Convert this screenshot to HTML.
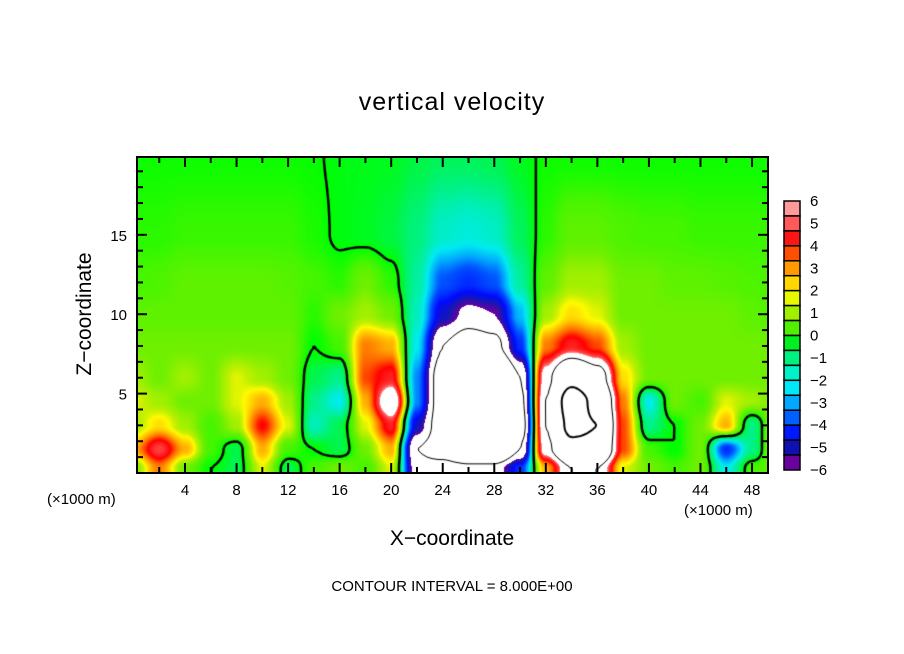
<!DOCTYPE html>
<html><head><meta charset="utf-8">
<style>
html,body{margin:0;padding:0;background:#fff;}
#wrap{position:relative;width:904px;height:654px;overflow:hidden;font-family:"Liberation Sans",sans-serif;color:#000;}
.t{position:absolute;white-space:nowrap;}
canvas,svg{position:absolute;left:0;top:0;}
</style></head>
<body>
<div id="wrap">
<canvas id="cv" width="904" height="654"></canvas>
<svg id="sv" width="904" height="654"></svg>
<div class="t" style="left:0;width:904px;text-align:center;top:88px;font-size:25px;letter-spacing:1px;">vertical velocity</div>
<div class="t" style="left:-5px;top:302px;width:180px;text-align:center;font-size:21px;transform:rotate(-90deg);">Z−coordinate</div>
<div class="t" style="left:0;width:904px;text-align:center;top:527px;font-size:21px;">X−coordinate</div>
<div class="t" style="left:47px;top:491px;font-size:15px;">(×1000 m)</div>
<div class="t" style="left:684px;top:502px;font-size:15px;">(×1000 m)</div>
<div class="t" style="left:0;width:904px;text-align:center;top:578px;font-size:15px;">CONTOUR INTERVAL = 8.000E+00</div>
</div>
<script>
// ---- data ----
const xCoords = [0,2,4,6,8,10,12,14,16,18,20,22,24,26,28,30,32,34,36,38,40,42,44,46,48,50];
const zLevels = [0.3,1.5,3,4.5,6,8,10,12,15,20];
const wRow0 = [1,3.5,1,0,-0.5,2,-0.5,0.5,1,0.5,2,-7,-6.5,-7,-7,-4,3,8,8,2,1,0.5,1,-2,0.5,1];
const wRow1 = [3,5.5,3,0.5,-0.5,3,0.5,0,-0.5,1,3,-8,-10,-14,-14,-8,7,14,14,4,0.5,0,1,-4,-1,2];
const wRow2 = [1.5,2.5,1.5,0.5,1.5,4.5,2,-1.5,-0.5,2,5,-5,-10,-18,-18,-10,8,18,16,4,-1,0,1,3,-1,2];
const wRow3 = [2,1.5,1,1,2,3,1.5,-1,-2,3,8,-3,-10,-18,-18,-9,8,20,14,3.5,-2,1,0.5,2,1.5,1];
const wRow4 = [1.5,1,1.5,1,2,1.5,1,-0.5,-1,4,5,-3,-10,-16,-16,-8,7,14,10,2.5,1,1,1,1,1,1];
const wRow5 = [1,1,1,1,1,1,1,0,0.5,3.5,3,-2,-8,-10,-9,-4,3.5,5,4,1.5,1,1,1,1,1,1];
const wRow6 = [0.8,0.8,0.8,0.8,0.8,0.8,0.8,0.3,1,1.5,1,-1.5,-5,-6.5,-6,-2.5,1.5,2.5,2,1,1,1,1,1,0.8,0.5];
const wRow7 = [0.5,0.6,0.8,0.8,0.8,0.8,0.7,0.5,0.3,1,0.3,-1.2,-3.5,-4,-3.5,-1.2,0.8,1.5,1.5,1,1,0.8,0.8,0.7,0.6,0.5];
const wRow8 = [0.3,0.3,0.4,0.4,0.4,0.4,0.4,0.2,-0.1,-0.2,-0.4,-0.9,-1.6,-1.8,-1.6,-0.6,0.3,0.8,0.8,0.6,0.5,0.5,0.4,0.4,0.4,0.4];
const wRow9 = [0.1,0.1,0.1,0.1,0.1,0.1,0.1,0.05,-0.1,-0.15,-0.2,-0.4,-0.6,-0.6,-0.5,-0.2,0.1,0.1,0.1,0.1,0.1,0.1,0.1,0.1,0.1,0.1];
const wRows = [wRow0,wRow1,wRow2,wRow3,wRow4,wRow5,wRow6,wRow7,wRow8,wRow9];
const xTickLabels = [4,8,12,16,20,24,28,32,36,40,44,48];
const zTickLabels = [5,10,15];
const cbLabels = [6,5,4,3,2,1,0,-1,-2,-3,-4,-5,-6];
const cbColors = ["#ff9a9a","#ff5a5a","#ff1515","#ff5000","#ff9a00","#ffd800","#e8f800","#a0f000","#50f000","#00f020","#00f080","#00f0c8","#00e8f8","#00a8ff","#0060ff","#0018ff","#1010b0","#6a00a0"];
// ---- axes ----
const PL=137,PR=768,PT=157,PB=473;
const X0=0.275,X1=49.24,Z0=0,Z1=19.9;
const sx=x=>PL+(x-X0)/(X1-X0)*(PR-PL);
const sz=z=>PB-(z-Z0)/(Z1-Z0)*(PB-PT);
const ix=px=>X0+(px-PL)/(PR-PL)*(X1-X0);
const iz=py=>Z0+(PB-py)/(PB-PT)*(Z1-Z0);
function seg(arr,v){let i=0;while(i<arr.length-2&&v>arr[i+1])i++;let t=(v-arr[i])/(arr[i+1]-arr[i]);return [i,Math.max(0,Math.min(1,t))];}
function field(x,z){
  const [i,tx]=seg(xCoords,x),[j,tz]=seg(zLevels,z);
  const sm=t=>t*t*(3-2*t);
  const a=sm(tx),b=sm(tz);
  const r0=wRows[j],r1=wRows[j+1];
  return (r0[i]*(1-a)+r0[i+1]*a)*(1-b)+(r1[i]*(1-a)+r1[i+1]*a)*b;
}
const stops=[[-6,[106,0,160]],[-5.3,[24,24,176]],[-4.5,[0,10,255]],[-3.5,[0,80,255]],[-2.8,[0,160,255]],[-2,[0,235,240]],[-1.2,[0,240,160]],[-0.5,[0,245,80]],[0,[0,255,0]],[0.5,[70,245,0]],[1,[110,240,0]],[1.8,[192,240,0]],[2.2,[255,250,0]],[3,[255,176,0]],[3.8,[255,96,0]],[4.5,[255,0,0]],[5.5,[255,64,64]],[6,[255,144,144]]];
function col(v){
  if(v>6||v<-6)return [255,255,255];
  for(let k=0;k<stops.length-1;k++){if(v<=stops[k+1][0]){const t=(v-stops[k][0])/(stops[k+1][0]-stops[k][0]);const c0=stops[k][1],c1=stops[k+1][1];return [0,1,2].map(q=>Math.round(c0[q]+(c1[q]-c0[q])*t));}}
  return stops[stops.length-1][1];
}
const cv=document.getElementById('cv'),ctx=cv.getContext('2d');
const img=ctx.createImageData(PR-PL,PB-PT);
for(let py=PT;py<PB;py++)for(let px=PL;px<PR;px++){
  const c=col(field(ix(px+0.5),iz(py+0.5)));const o=((py-PT)*(PR-PL)+(px-PL))*4;
  img.data[o]=c[0];img.data[o+1]=c[1];img.data[o+2]=c[2];img.data[o+3]=255;}
ctx.putImageData(img,PL,PT);
function contour(level,lw,dash){
  const st=3;ctx.save();ctx.beginPath();ctx.rect(PL,PT,PR-PL,PB-PT);ctx.clip();
  ctx.strokeStyle='#000';ctx.lineWidth=lw;ctx.setLineDash(dash);ctx.beginPath();
  for(let py=PT;py<PB;py+=st)for(let px=PL;px<PR;px+=st){
    const P=[[px,py],[px+st,py],[px+st,py+st],[px,py+st]];
    const V=P.map(p=>field(ix(p[0]),iz(p[1]))-level);
    const pts=[];
    for(let e=0;e<4;e++){const a=V[e],b=V[(e+1)%4];if((a<0)!==(b<0)){const t=a/(a-b);const A=P[e],B=P[(e+1)%4];pts.push([A[0]+(B[0]-A[0])*t,A[1]+(B[1]-A[1])*t]);}}
    for(let k=0;k+1<pts.length;k+=2){ctx.moveTo(pts[k][0],pts[k][1]);ctx.lineTo(pts[k+1][0],pts[k+1][1]);}
  }
  ctx.stroke();ctx.restore();
}
contour(0,2.5,[]);contour(8,1,[]);contour(16,2,[]);contour(-8,1,[5,4]);
const NS='http://www.w3.org/2000/svg',sv=document.getElementById('sv');
function mk(tag,at,name){const e=document.createElementNS(NS,tag);for(const k in at)e.setAttribute(k,at[k]);


sv.appendChild(e);return e;}
mk('rect',{x:PL,y:PT,width:PR-PL,height:PB-PT,fill:'none',stroke:'#000','stroke-width':2},'plot-frame');
for(let x=2;x<=48;x+=2){const L=(x%4===0)?10:6;const X=sx(x);
  mk('line',{x1:X,x2:X,y1:PB,y2:PB-L,stroke:'#000','stroke-width':2},'x-tick-bottom');
  mk('line',{x1:X,x2:X,y1:PT,y2:PT+L,stroke:'#000','stroke-width':2},'x-tick-top');}
for(let z=1;z<=19;z++){const L=(z%5===0)?10:6;const Y=sz(z);
  mk('line',{x1:PL,x2:PL+L,y1:Y,y2:Y,stroke:'#000','stroke-width':2},'z-tick-left');
  mk('line',{x1:PR,x2:PR-L,y1:Y,y2:Y,stroke:'#000','stroke-width':2},'z-tick-right');}
xTickLabels.forEach(v=>{const t=mk('text',{x:sx(v),y:495,'text-anchor':'middle','font-size':15,'font-family':'Liberation Sans, sans-serif'},'x-tick-label');t.textContent=v;});
zTickLabels.forEach(v=>{const t=mk('text',{x:127,y:sz(v)+6,'text-anchor':'end','font-size':15,'font-family':'Liberation Sans, sans-serif'},'z-tick-label');t.textContent=v;});
const CBT=201,CBB=470,CBL=784,CBR=800;const n=cbColors.length;const h=(CBB-CBT)/n;
cbColors.forEach((c,k)=>{mk('rect',{x:CBL,y:CBT+k*h,width:CBR-CBL,height:h,fill:c,stroke:'#000','stroke-width':1.5},'colorbar-box');});
cbLabels.forEach((v,k)=>{const y=CBT+k*(CBB-CBT)/(cbLabels.length-1);const t=mk('text',{x:810,y:y+5,'font-size':15,'font-family':'Liberation Sans, sans-serif'},'colorbar-label');t.textContent=v<0?'−'+(-v):v;});
</script>
</body></html>
